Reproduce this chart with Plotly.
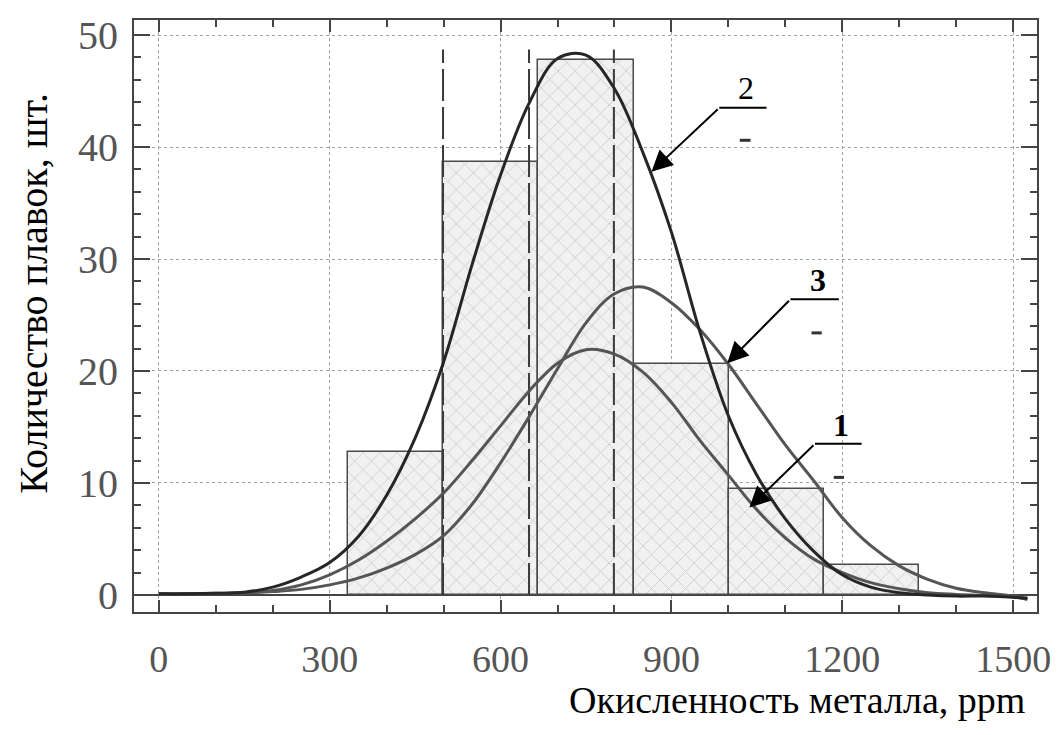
import plotly.graph_objects as go

# ---------------- data ----------------
bin_edges = [333, 499, 666, 834, 1001, 1168, 1335]
bin_counts = [12.8, 38.7, 47.8, 20.6, 9.5, 2.7]

curve_x = [0, 50, 100, 150, 200, 250, 300, 350, 400, 450, 500, 550, 600, 650, 700, 750,
           800, 850, 900, 950, 1000, 1050, 1100, 1150, 1200, 1250, 1300, 1350, 1400,
           1450, 1500, 1525]
curve1_y = [0.1, 0.1, 0.15, 0.2, 0.4, 0.9, 1.8, 3.1, 4.8, 6.8, 9.1, 12.0, 15.1, 18.2, 20.7, 21.9,
            21.5, 19.9, 17.2, 13.8, 10.7, 7.6, 5.1, 3.2, 2.0, 1.1, 0.55, 0.2, 0.05,
            -0.05, -0.15, -0.3]
curve2_y = [0.1, 0.1, 0.15, 0.25, 0.7, 1.6, 2.9, 5.2, 8.9, 14.0, 20.8, 29.5, 37.5, 43.9, 47.9, 48.2,
            45.2, 39.5, 32.4, 23.5, 16.0, 10.7, 6.8, 3.9, 1.8, 0.7, 0.2, 0.0, -0.1,
            -0.1, -0.2, -0.3]
curve3_y = [0.1, 0.1, 0.12, 0.18, 0.3, 0.5, 0.9, 1.5, 2.4, 3.6, 5.3, 8.1, 11.8, 15.9, 20.2, 24.3,
            26.9, 27.5, 26.1, 23.7, 20.6, 17.0, 13.4, 10.2, 6.9, 4.4, 2.6, 1.4, 0.6,
            0.2, -0.1, -0.4]

dash_x = [499, 650, 799]
dash_top = 48.7

x_ticks = [0, 300, 600, 900, 1200, 1500]
y_ticks = [0, 10, 20, 30, 40, 50]

x_title = "Окисленность металла, ppm"
y_title = "Количество плавок, шт."

curve_labels = ["1", "2", "3"]

# ---------------- figure ----------------
FONT = "Liberation Serif, Times New Roman, serif"
fig = go.Figure()

centers = [(a + b) / 2 for a, b in zip(bin_edges[:-1], bin_edges[1:])]
widths = [b - a for a, b in zip(bin_edges[:-1], bin_edges[1:])]

fig.add_trace(go.Bar(
    x=centers, y=bin_counts, width=widths,
    marker=dict(color="#f1f1f1",
                line=dict(color="#4a4a4a", width=1.5),
                pattern=dict(shape="x", size=12, solidity=0.14,
                             fgcolor="#a8a8a8", bgcolor="#f1f1f1")),
    showlegend=False, hoverinfo="skip"))

for dx in dash_x:
    fig.add_trace(go.Scatter(
        x=[dx, dx], y=[0, dash_top], mode="lines",
        line=dict(color="#3a3a3a", width=2, dash="32px,6px"),
        showlegend=False, hoverinfo="skip"))

for cy, col in [(curve1_y, "#555555"), (curve3_y, "#555555"), (curve2_y, "#262626")]:
    fig.add_trace(go.Scatter(
        x=curve_x, y=cy, mode="lines",
        line=dict(color=col, width=3, shape="spline", smoothing=1.0),
        showlegend=False, hoverinfo="skip"))

# callouts: (label, bold, tip_x, tip_y, tail_x, tail_y, underline_end_x, label_x, label_y, dash_x0, dash_x1, dash_y)
callouts = [
    (curve_labels[1], False, 865, 37.8, 984, 43.5, 1067, 1031, 45.3, 1020, 1039, 40.6),
    (curve_labels[2], True, 998, 20.7, 1109, 26.4, 1194, 1157, 28.1, 1146, 1164, 23.4),
    (curve_labels[0], True, 1037, 7.8, 1152, 13.5, 1234, 1198, 15.2, 1185, 1203, 10.5),
]
for lab, bold, tx, ty, sx, sy, ux, lx, ly, d0, d1, dy in callouts:
    fig.add_annotation(x=tx, y=ty, ax=sx, ay=sy, xref="x", yref="y", axref="x", ayref="y",
                       text="", showarrow=True, arrowhead=2, arrowsize=2.1, arrowwidth=2,
                       arrowcolor="black", standoff=0)
    fig.add_shape(type="line", x0=sx, x1=ux, y0=sy, y1=sy, xref="x", yref="y",
                  line=dict(color="black", width=2))
    fig.add_shape(type="line", x0=d0, x1=d1, y0=dy, y1=dy, xref="x", yref="y",
                  line=dict(color="#333333", width=3))
    fig.add_annotation(x=lx, y=ly, xref="x", yref="y", showarrow=False,
                       text=f"<b>{lab}</b>" if bold else lab,
                       font=dict(family=FONT, size=32, color="black"))

fig.add_annotation(x=0.734, y=-0.149, xref="paper", yref="paper", showarrow=False,
                   xanchor="center", yanchor="middle",
                   text=x_title, font=dict(family=FONT, size=38, color="black"))
fig.add_annotation(x=-0.111, y=0.539, xref="paper", yref="paper", showarrow=False,
                   xanchor="center", yanchor="middle",
                   text=y_title, textangle=-90, font=dict(family=FONT, size=40, color="black"))

axis_common = dict(showline=True, linecolor="#444444", linewidth=2, mirror="ticks",
                   ticks="inside", tickcolor="#444444", tickwidth=2,
                   showgrid=True, gridcolor="#a0a0a0", griddash="dot", gridwidth=1)

fig.update_xaxes(range=[-43.6, 1541.9], tickmode="array", tickvals=x_ticks,
                 ticktext=[str(v) for v in x_ticks], ticklen=12, zeroline=False,
                 ticklabelstandoff=12,
                 tickfont=dict(family=FONT, size=38, color="#555555"),
                 minor=dict(dtick=100, tick0=0, ticks="inside", ticklen=7,
                            tickcolor="#444444", tickwidth=1.5, showgrid=False),
                 **axis_common)
fig.update_yaxes(range=[-1.52, 51.34], tickmode="array", tickvals=y_ticks,
                 ticktext=[str(v) for v in y_ticks], ticklen=16,
                 zeroline=True, zerolinecolor="#444444", zerolinewidth=2,
                 ticklabelstandoff=6,
                 tickfont=dict(family=FONT, size=40, color="#555555"),
                 minor=dict(dtick=2, tick0=0, ticks="inside", ticklen=7,
                            tickcolor="#444444", tickwidth=1.5, showgrid=False),
                 **axis_common)

fig.update_layout(width=1063, height=735, margin=dict(l=134, r=20, t=20, b=123),
                  paper_bgcolor="white", plot_bgcolor="white", bargap=0,
                  font=dict(family=FONT))

fig.write_html("out.html")
